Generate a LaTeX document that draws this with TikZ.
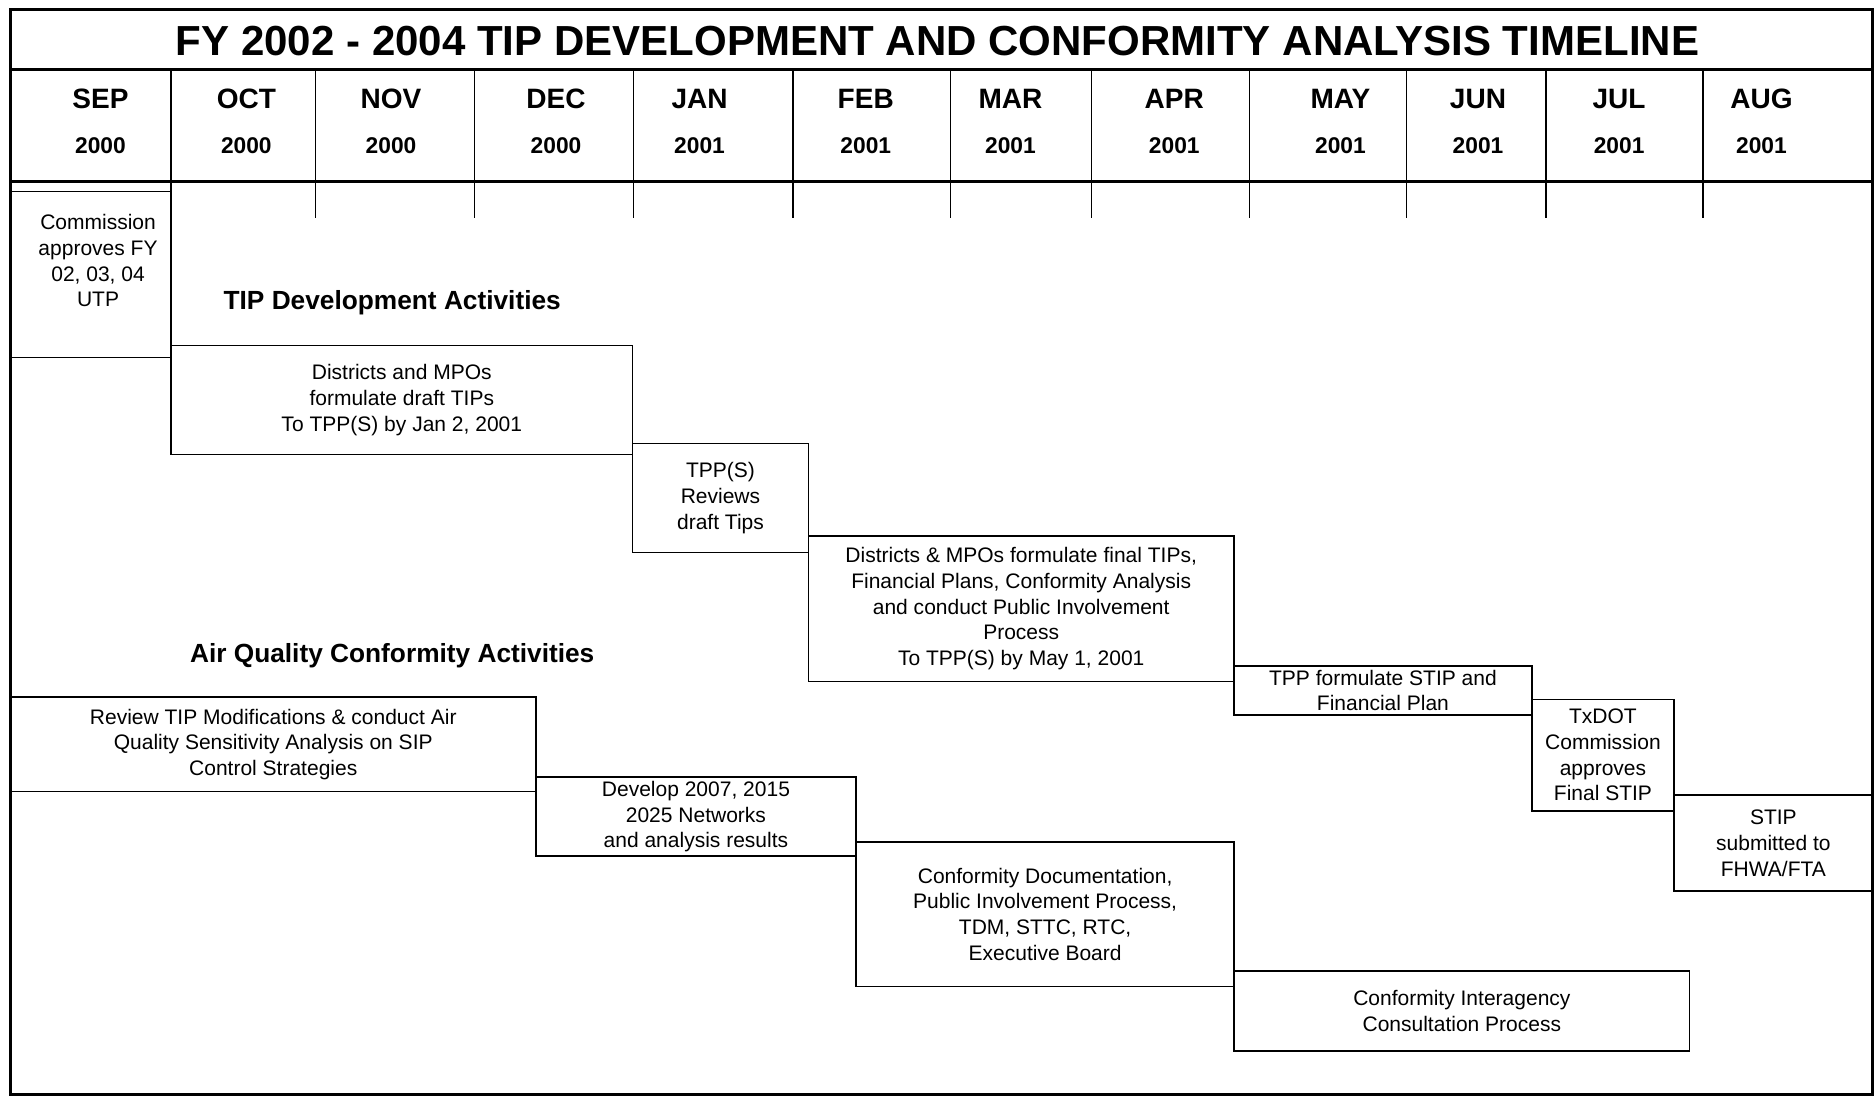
\documentclass[tikz,border=0pt]{standalone}
\usepackage{fontspec}
\setmainfont{Liberation Sans}
\usetikzlibrary{positioning,fit}

\begin{document}
\begin{tikzpicture}[x=0.024cm, y=-0.024cm,
    frame/.style={line width=1.6pt},
    rule/.style={line width=1.8pt},
    col/.style={line width=0.8pt},
    actbox/.style={draw, line width=0.9pt, inner sep=0pt},
    act/.style={align=center, inner sep=0pt, font=\fontsize{12}{14.7}\selectfont},
    title/.style={font=\fontsize{24}{28}\selectfont\bfseries},
    month/.style={font=\fontsize{16}{18}\selectfont\bfseries},
    yr/.style={font=\fontsize{13}{15}\selectfont\bfseries},
    heading/.style={font=\fontsize{15}{18}\selectfont\bfseries}]
\useasboundingbox (0,0) rectangle (1568,918);

\draw[frame] (9,8) rectangle (1566,915);
\node[title] (title) at (784,34) {FY 2002 - 2004 TIP DEVELOPMENT AND CONFORMITY ANALYSIS TIMELINE};
\draw[rule] (9,58) -- (1566,58);
\draw[rule] (9,152) -- (1566,152);

\draw[col] (143,58) -- (143,160);
\foreach \x in {264,397,530,663,795,913,1045,1176,1293,1424}
  \draw[col] (\x,58) -- (\x,182);

\foreach \mname/\yname/\x [count=\i] in {SEP/2000/84, OCT/2000/206, NOV/2000/327,
    DEC/2000/465, JAN/2001/585, FEB/2001/724, MAR/2001/845, APR/2001/982,
    MAY/2001/1121, JUN/2001/1236, JUL/2001/1354, AUG/2001/1473}{
  \node[month] (m\i) at (\x,83) {\mname};
  \node[yr] (y\i) at (\x,122) {\yname};
}

% TIP development
\node[actbox, fit={(9,160) (143,299)}] (comm) {};
\node[act] (commtxt) at (82,218) {Commission\\approves FY\\02, 03, 04\\UTP};
\node[heading] (tipdev) at (328,253) {TIP Development Activities};

\node[actbox, fit={(143,289) (529,380)}] (draft) {};
\node[act] (drafttxt) at (draft) {Districts and MPOs\\formulate draft TIPs\\To TPP(S) by Jan 2, 2001};
\node[actbox, fit={(529,371) (676,462)}] (review) {};
\node[act] (reviewtxt) at (review) {TPP(S)\\Reviews\\draft Tips};
\node[actbox, fit={(676,448) (1032,570)}] (final) {};
\node[act] (finaltxt) at (final) {Districts \& MPOs formulate final TIPs,\\Financial Plans, Conformity Analysis\\and conduct Public Involvement\\Process\\To TPP(S) by May 1, 2001};
\node[actbox, fit={(1032,557) (1281,598)}] (stip) {};
\node[act] (stiptxt) at (stip) {TPP formulate STIP and\\Financial Plan};
\node[actbox, fit={(1281,585) (1400,678)}] (txdot) {};
\node[act] (txdottxt) at (txdot) {TxDOT\\Commission\\approves\\Final STIP};
\node[actbox, fit={(1400,665) (1566,745)}] (fhwa) {};
\node[act] (fhwatxt) at (fhwa) {STIP\\submitted to\\FHWA/FTA};

% air quality conformity
\node[heading] (aqca) at (328,548) {Air Quality Conformity Activities};

\node[actbox, fit={(9,583) (448,662)}] (sens) {};
\node[act] (senstxt) at (sens) {Review TIP Modifications \& conduct Air\\Quality Sensitivity Analysis on SIP\\Control Strategies};
\node[actbox, fit={(448,650) (716,716)}] (nets) {};
\node[act] (netstxt) at (nets) {Develop 2007, 2015\\2025 Networks\\and analysis results};
\node[actbox, fit={(716,704) (1032,825)}] (cdoc) {};
\node[act] (cdoctxt) at (cdoc) {Conformity Documentation,\\Public Involvement Process,\\TDM, STTC, RTC,\\Executive Board};
\node[actbox, fit={(1032,812) (1413,879)}] (icp) {};
\node[act] (icptxt) at (icp) {Conformity Interagency\\Consultation Process};
\end{tikzpicture}
\end{document}
